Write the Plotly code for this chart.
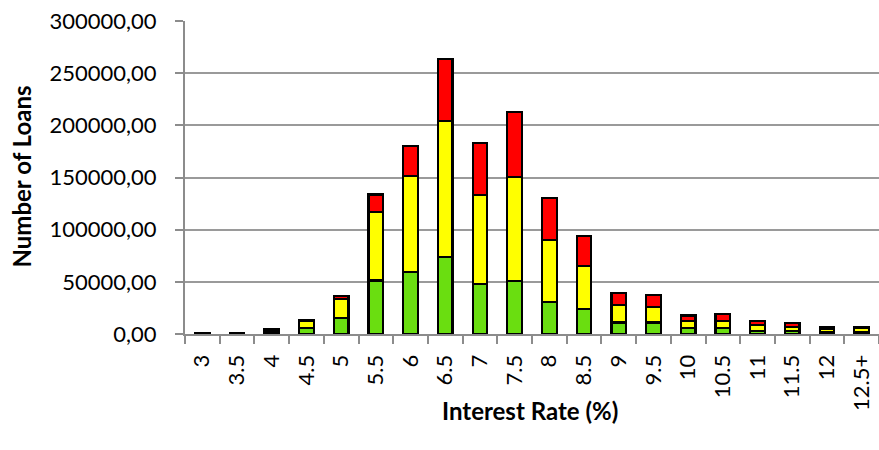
import plotly.graph_objects as go

# Interest-rate buckets and loan counts per segment
rates = ["3", "3.5", "4", "4.5", "5", "5.5", "6", "6.5", "7", "7.5",
         "8", "8.5", "9", "9.5", "10", "10.5", "11", "11.5", "12", "12.5+"]
green_loans = [400, 500, 1800, 5900, 15700, 51300, 59600, 73500, 47600, 51100,
               30400, 23600, 11000, 11000, 5700, 6000, 3200, 3000, 2200, 2000]
yellow_loans = [300, 300, 1500, 6600, 17700, 65800, 91600, 130300, 85900, 99600,
                59600, 41500, 17000, 15200, 6900, 6700, 5400, 4000, 2300, 3600]
red_loans = [200, 200, 1000, 1000, 3300, 16600, 28800, 59400, 49200, 62300,
             40600, 28800, 11500, 11000, 5100, 6500, 3900, 3800, 1900, 1400]

FONT = "Lato"

fig = go.Figure()
for vals, col in [(green_loans, "#6ADE10"), (yellow_loans, "#FFFF00"), (red_loans, "#FF0000")]:
    fig.add_trace(go.Bar(
        x=rates, y=vals,
        marker=dict(color=col, line=dict(color="#000000", width=2.2)),
        showlegend=False,
    ))

fig.update_layout(
    barmode="stack",
    bargap=0.58,
    width=879, height=450,
    margin=dict(l=185, r=0, t=21, b=116),
    paper_bgcolor="white",
    plot_bgcolor="white",
    separators=",.",
    font=dict(family=FONT, color="#000000", size=21),
    annotations=[
        dict(text="<b>Interest Rate (%)</b>", xref="paper", yref="paper",
             x=0.497, y=-0.243, xanchor="center", yanchor="middle",
             showarrow=False, font=dict(family=FONT, size=24)),
        dict(text="<b>Number of Loans</b>", xref="paper", yref="paper",
             x=-0.235, y=0.503, xanchor="center", yanchor="middle",
             textangle=-90, showarrow=False, font=dict(family=FONT, size=24)),
    ],
)

fig.update_yaxes(
    range=[0, 300000],
    dtick=50000,
    tickformat=".2f",
    showgrid=True,
    gridcolor="#9A9A9A",
    gridwidth=1.6,
    showline=True,
    linecolor="#8C8C8C",
    linewidth=2,
    ticks="outside",
    ticklen=8,
    tickwidth=2,
    tickcolor="#8C8C8C",
    ticklabelstandoff=14,
    tickfont=dict(family=FONT, size=22),
    zeroline=False,
)

fig.update_xaxes(
    type="category",
    tickangle=-90,
    showline=True,
    linecolor="#8C8C8C",
    linewidth=2,
    ticks="outside",
    tickson="boundaries",
    ticklen=8,
    tickwidth=2,
    tickcolor="#8C8C8C",
    ticklabelstandoff=10,
    tickfont=dict(family=FONT, size=22),
)

fig.write_html("out.html")
